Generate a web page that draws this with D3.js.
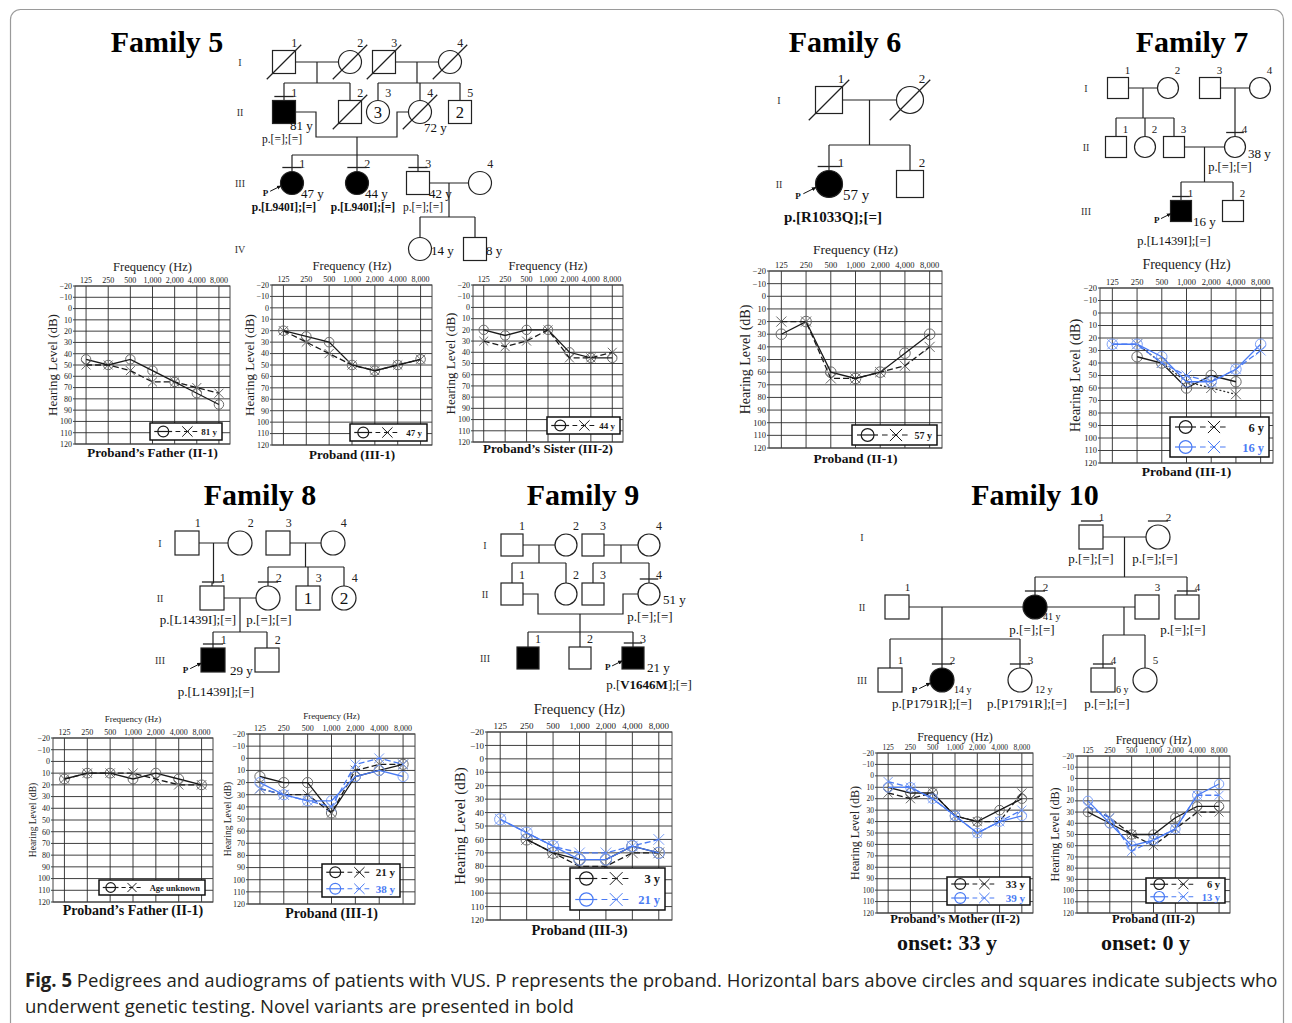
<!DOCTYPE html>
<html>
<head>
<meta charset="utf-8">
<script src="https://cdn.jsdelivr.net/npm/d3@7"></script>
<style>
  body { margin: 0; background: #fff; }
  svg { display: block; }
</style>
</head>
<body>
<div class="viz"></div>
<script>
var W = 1292, H = 1023;
var SERIF = "'Liberation Serif','Times New Roman',serif";
var BLUE = "#4a7bf4";
var INK = "#1a1a1a";

// ---- audiogram data (dB HL, null = not measured) ----
var freqs = ["125", "250", "500", "1,000", "2,000", "4,000", "8,000"];
var dbTicks = d3.range(-20, 121, 10);

var f5FatherO = [45, 50, 45, 55, 65, 75, 85];
var f5FatherX = [50, 50, 55, 65, 65, 70, 75];
var f5ProbandO = [20, 25, 30, 50, 55, 50, 45];
var f5ProbandX = [20, 30, 40, 50, 55, 50, 45];
var f5SisterO = [20, 25, 20, 20, 40, 45, 45];
var f5SisterX = [30, 35, 30, 20, 45, 45, 40];
var f6ProbandO = [30, 20, 60, 65, 60, 45, 30];
var f6ProbandX = [20, 20, 65, 65, 60, 55, 40];
var f7Age6O = [null, 35, 40, 60, 50, 55, null];
var f7Age6X = [null, 25, 40, 55, 60, 65, null];
var f7Age16O = [25, 25, 35, 55, 55, 45, 25];
var f7Age16X = [25, 25, 40, 50, 55, 45, 30];
var f8FatherO = [15, 10, 10, 15, 10, 15, 20];
var f8FatherX = [15, 10, 10, 10, 15, 20, 20];
var f8Age21O = [15, 20, 20, 45, 15, 10, 5];
var f8Age21X = [25, 30, 30, 45, 10, 5, 5];
var f8Age38O = [20, 30, 35, 35, 15, 10, 15];
var f8Age38X = [25, 30, 35, 40, 5, 0, 5];
var f9Age3O = [null, 60, 70, 75, 75, 65, 70];
var f9Age3X = [null, 60, 70, 80, 80, 70, 70];
var f9Age21O = [45, 55, 65, 75, 75, 65, 70];
var f9Age21X = [45, 55, 65, 70, 70, 65, 60];
var f10MotherAge33O = [10, 15, 15, 35, 40, 30, 20];
var f10MotherAge33X = [15, 20, 15, 35, 40, 40, 15];
var f10MotherAge39O = [10, 10, 20, 35, 50, 40, 35];
var f10MotherAge39X = [5, 10, 20, 35, 50, 40, 30];
var f10ProbandAge6O = [30, 40, 50, 50, 35, 25, 25];
var f10ProbandAge6X = [25, 35, 50, 60, 45, 30, 30];
var f10ProbandAge13O = [20, 40, 60, 55, 45, 15, 5];
var f10ProbandAge13X = [25, 35, 65, 55, 45, 15, 15];

// ---- pedigree members: id, sex, flags (A affected, D deceased, T tested, P proband), inner count, age, genotype, novel part ----
var fam5Members = [
  ["I-1", "m", "D"], ["I-2", "f", "D"], ["I-3", "m", "D"], ["I-4", "f", "D"],
  ["II-1", "m", "AT", "", "81 y", "p.[=];[=]"], ["II-2", "m", "D"], ["II-3", "f", "", "3"],
  ["II-4", "f", "D", "", "72 y"], ["II-5", "m", "", "2"],
  ["III-1", "f", "ATP", "", "47 y", "p.[L940I];[=]", "all"], ["III-2", "f", "AT", "", "44 y", "p.[L940I];[=]", "all"],
  ["III-3", "m", "T", "", "42 y", "p.[=];[=]"], ["III-4", "f", ""],
  ["IV-1", "f", "", "", "14 y"], ["IV-2", "m", "", "", "8 y"]
];
var fam6Members = [
  ["I-1", "m", "D"], ["I-2", "f", "D"],
  ["II-1", "f", "ATP", "", "57 y", "p.[R1033Q];[=]", "all"], ["II-2", "m", ""]
];
var fam7Members = [
  ["I-1", "m", ""], ["I-2", "f", ""], ["I-3", "m", ""], ["I-4", "f", ""],
  ["II-1", "m", ""], ["II-2", "f", ""], ["II-3", "m", ""], ["II-4", "f", "T", "", "38 y", "p.[=];[=]"],
  ["III-1", "m", "ATP", "", "16 y", "p.[L1439I];[=]"], ["III-2", "m", ""]
];
var fam8Members = [
  ["I-1", "m", ""], ["I-2", "f", ""], ["I-3", "m", ""], ["I-4", "f", ""],
  ["II-1", "m", "T", "", "", "p.[L1439I];[=]"], ["II-2", "f", "T", "", "", "p.[=];[=]"],
  ["II-3", "m", "", "1"], ["II-4", "f", "", "2"],
  ["III-1", "m", "ATP", "", "29 y", "p.[L1439I];[=]"], ["III-2", "m", ""]
];
var fam9Members = [
  ["I-1", "m", ""], ["I-2", "f", ""], ["I-3", "m", ""], ["I-4", "f", ""],
  ["II-1", "m", ""], ["II-2", "f", ""], ["II-3", "m", ""], ["II-4", "f", "T", "", "51 y", "p.[=];[=]"],
  ["III-1", "m", "A"], ["III-2", "m", ""], ["III-3", "m", "ATP", "", "21 y", "p.[V1646M];[=]", "V1646M"]
];
var fam10Members = [
  ["I-1", "m", "T", "", "", "p.[=];[=]"], ["I-2", "f", "T", "", "", "p.[=];[=]"],
  ["II-1", "m", ""], ["II-2", "f", "AT", "", "41 y", "p.[=];[=]"], ["II-3", "m", ""],
  ["II-4", "m", "T", "", "", "p.[=];[=]"],
  ["III-1", "m", ""], ["III-2", "f", "ATP", "", "14 y", "p.[P1791R];[=]"],
  ["III-3", "f", "T", "", "12 y", "p.[P1791R];[=]"], ["III-4", "m", "T", "", "6 y", "p.[=];[=]"], ["III-5", "f", ""]
];

var svg = d3.select(".viz").append("svg").attr("width", W).attr("height", H)
  .style("font-family", SERIF);

svg.append("rect").attr("x", 10.5).attr("y", 9.5).attr("width", 1273).attr("height", 1100)
  .attr("rx", 10).attr("fill", "none").attr("stroke", "#9a9a9a").attr("stroke-width", 1.2);

// ---- audiograms ----
var audiograms = [
  { x0: 75, x1: 230, y0: 286, y1: 444, tick: 8, title: 12.5, titleDy: 15, yTitle: 13, yTitleDx: 23,
    label: "Proband\u2019s Father (II-1)", labelFs: 13, labelDy: 13, leg: [150, 423, 72, 17], legFs: 9,
    series: [[f5FatherO, "o", INK], [f5FatherX, "x", INK]], rows: [["81 y", INK]] },
  { x0: 272, x1: 432, y0: 285, y1: 445, tick: 8, title: 12.5, titleDy: 15, yTitle: 13, yTitleDx: 23,
    label: "Proband (III-1)", labelFs: 13, labelDy: 14, leg: [350, 424, 77, 17], legFs: 9,
    series: [[f5ProbandO, "o", INK], [f5ProbandX, "x", INK]], rows: [["47 y", INK]] },
  { x0: 473, x1: 623, y0: 285, y1: 442, tick: 8, title: 12.5, titleDy: 15, yTitle: 13, yTitleDx: 23,
    label: "Proband\u2019s Sister (III-2)", labelFs: 13, labelDy: 11, leg: [547, 417, 73, 17], legFs: 9,
    series: [[f5SisterO, "o", INK], [f5SisterX, "x", INK]], rows: [["44 y", INK]] },
  { x0: 769, x1: 942, y0: 271, y1: 448, tick: 8.5, title: 13.5, titleDy: 17, yTitle: 14, yTitleDx: 24,
    label: "Proband (II-1)", labelFs: 13.5, labelDy: 15, leg: [852, 425, 85, 20], legFs: 10,
    series: [[f6ProbandO, "o", INK], [f6ProbandX, "x", INK]], rows: [["57 y", INK]] },
  { x0: 1100, x1: 1273, y0: 288, y1: 463, tick: 8.5, title: 14, titleDy: 19, yTitle: 14.5, yTitleDx: 25,
    label: "Proband (III-1)", labelFs: 13.5, labelDy: 13, leg: [1170, 417, 99, 40], legFs: 12.5,
    series: [[f7Age6O, "o", INK], [f7Age6X, "x", "#333", "2,2"], [f7Age16O, "o", BLUE], [f7Age16X, "x", BLUE]],
    rows: [["6 y", INK], ["16 y", BLUE]] },
  { x0: 53, x1: 213, y0: 738, y1: 902, tick: 8, title: 9, titleDy: 16, yTitle: 9.5, yTitleDx: 20,
    label: "Proband\u2019s Father (II-1)", labelFs: 14, labelDy: 13, leg: [99, 880, 106, 15], legFs: 8.5,
    series: [[f8FatherO, "o", INK], [f8FatherX, "x", INK]], rows: [["Age unknown", INK]] },
  { x0: 248, x1: 415, y0: 734, y1: 904, tick: 8, title: 9, titleDy: 15, yTitle: 9.5, yTitleDx: 20,
    label: "Proband (III-1)", labelFs: 14, labelDy: 14, leg: [322, 864, 78, 33], legFs: 11,
    series: [[f8Age21O, "o", INK], [f8Age21X, "x", INK], [f8Age38O, "o", BLUE], [f8Age38X, "x", BLUE]],
    rows: [["21 y", INK], ["38 y", BLUE]] },
  { x0: 487, x1: 672, y0: 732, y1: 920, tick: 9, title: 14.5, titleDy: 18, yTitle: 15, yTitleDx: 27,
    label: "Proband (III-3)", labelFs: 14.5, labelDy: 15, leg: [570, 868, 95, 42], legFs: 12.5,
    series: [[f9Age3O, "o", INK], [f9Age3X, "x", INK], [f9Age21O, "o", BLUE], [f9Age21X, "x", BLUE]],
    rows: [["3 y", INK], ["21 y", BLUE]] },
  { x0: 877, x1: 1033, y0: 753, y1: 913, tick: 7.5, title: 12, titleDy: 12, yTitle: 12, yTitleDx: 22,
    label: "Proband\u2019s Mother (II-2)", labelFs: 12.5, labelDy: 10, leg: [947, 877, 83, 28], legFs: 11,
    series: [[f10MotherAge33O, "o", INK], [f10MotherAge33X, "x", INK], [f10MotherAge39O, "o", BLUE], [f10MotherAge39X, "x", BLUE]],
    rows: [["33 y", INK], ["39 y", BLUE]], onset: "onset: 33 y" },
  { x0: 1077, x1: 1230, y0: 756, y1: 913, tick: 7.5, title: 12, titleDy: 12, yTitle: 12, yTitleDx: 22,
    label: "Proband (III-2)", labelFs: 12.5, labelDy: 10, leg: [1146, 878, 79, 25], legFs: 10.5,
    series: [[f10ProbandAge6O, "o", INK], [f10ProbandAge6X, "x", INK], [f10ProbandAge13O, "o", BLUE], [f10ProbandAge13X, "x", BLUE]],
    rows: [["6 y", INK], ["13 y", BLUE]], onset: "onset: 0 y" }
];

function xMark(g, cx, cy, r, color) {
  g.append("path").attr("d", "M" + (cx - r) + "," + (cy - r) + "L" + (cx + r) + "," + (cy + r) +
    "M" + (cx - r) + "," + (cy + r) + "L" + (cx + r) + "," + (cy - r))
    .attr("stroke", color).attr("stroke-width", 1).attr("fill", "none");
}

function drawAudiogram(a) {
  var g = svg.append("g").attr("class", "audiogram");
  var x = d3.scalePoint().domain(freqs).range([a.x0, a.x1]).padding(0.5);
  var y = d3.scaleLinear().domain([-20, 120]).range([a.y0, a.y1]);

  g.selectAll("line.h").data(dbTicks).enter().append("line").attr("class", "h")
    .attr("x1", a.x0 - 2).attr("x2", a.x1).attr("y1", function (d) { return y(d); })
    .attr("y2", function (d) { return y(d); }).attr("stroke", "#2a2a2a").attr("stroke-width", 0.9);
  g.selectAll("line.v").data(freqs).enter().append("line").attr("class", "v")
    .attr("x1", function (d) { return x(d); }).attr("x2", function (d) { return x(d); })
    .attr("y1", a.y0).attr("y2", a.y1).attr("stroke", "#2a2a2a").attr("stroke-width", 0.9);
  g.append("rect").attr("x", a.x0).attr("y", a.y0).attr("width", a.x1 - a.x0).attr("height", a.y1 - a.y0)
    .attr("fill", "none").attr("stroke", "#444").attr("stroke-width", 1);

  g.selectAll("text.fx").data(freqs).enter().append("text").attr("class", "fx")
    .attr("x", function (d) { return x(d); }).attr("y", a.y0 - 3).attr("text-anchor", "middle")
    .style("font-size", a.tick + "px").attr("fill", "#222").text(function (d) { return d; });
  g.selectAll("text.fy").data(dbTicks).enter().append("text").attr("class", "fy")
    .attr("x", a.x0 - 3).attr("y", function (d) { return y(d) + a.tick * 0.35; })
    .attr("text-anchor", "end").style("font-size", a.tick + "px").attr("fill", "#222")
    .text(function (d) { return d < 0 ? "\u2212" + (-d) : d; });

  g.append("text").attr("x", (a.x0 + a.x1) / 2).attr("y", a.y0 - a.titleDy).attr("text-anchor", "middle")
    .style("font-size", a.title + "px").attr("fill", "#222").text("Frequency (Hz)");
  var cy = (a.y0 + a.y1) / 2, cx = a.x0 - a.yTitleDx;
  g.append("text").attr("transform", "translate(" + cx + "," + cy + ") rotate(-90)")
    .attr("text-anchor", "middle").attr("dy", "0.35em").style("font-size", a.yTitle + "px")
    .attr("fill", "#222").text("Hearing Level (dB)");
  g.append("text").attr("x", (a.x0 + a.x1) / 2).attr("y", a.y1 + a.labelDy).attr("text-anchor", "middle")
    .style("font-size", a.labelFs + "px").style("font-weight", "bold").attr("fill", "#111").text(a.label);
  if (a.onset) {
    g.append("text").attr("x", (a.x0 + a.x1) / 2 - 8).attr("y", a.y1 + 37).attr("text-anchor", "middle")
      .style("font-size", "22px").style("font-weight", "bold").attr("fill", "#111").text(a.onset);
  }

  // series
  a.series.forEach(function (s) {
    var vals = s[0], kind = s[1], color = s[2];
    var pts = freqs.map(function (f, i) { return { f: f, v: vals[i] }; });
    var mColor = color === BLUE ? "#7fa2f7" : "#6a6a6a";
    var r = (a.y1 - a.y0) / 14 * 0.42;
    pts.filter(function (d) { return d.v != null; }).forEach(function (d) {
      if (kind === "o") {
        g.append("circle").attr("cx", x(d.f)).attr("cy", y(d.v)).attr("r", r)
          .attr("fill", "none").attr("stroke", mColor).attr("stroke-width", 1);
      } else {
        xMark(g, x(d.f), y(d.v), r * 0.95, mColor);
      }
    });
    var line = d3.line().defined(function (d) { return d.v != null; })
      .x(function (d) { return x(d.f); }).y(function (d) { return y(d.v); });
    g.append("path").attr("d", line(pts)).attr("fill", "none").attr("stroke", color)
      .attr("stroke-width", 1.3)
      .attr("stroke-dasharray", kind === "x" ? (s[3] || "6,3") : null);
  });

  // legend
  var L = a.leg;
  g.append("rect").attr("x", L[0]).attr("y", L[1]).attr("width", L[2]).attr("height", L[3])
    .attr("fill", "#fff").attr("stroke", "#111").attr("stroke-width", 1.5);
  var rh = L[3] / a.rows.length;
  var u = Math.max(15, Math.min(21, a.rows.length > 1 ? Math.max(rh, 17) : rh));
  var sr = Math.min(0.32 * u, rh * 0.42);
  a.rows.forEach(function (row, i) {
    var ry = L[1] + rh * (i + 0.5);
    var c = row[1];
    var lg = g.append("g");
    lg.append("line").attr("x1", L[0] + 0.25 * u).attr("x2", L[0] + 1.3 * u).attr("y1", ry).attr("y2", ry)
      .attr("stroke", c).attr("stroke-width", 1.2);
    lg.append("circle").attr("cx", L[0] + 0.78 * u).attr("cy", ry).attr("r", sr)
      .attr("fill", "none").attr("stroke", c).attr("stroke-width", 1.2);
    lg.append("line").attr("x1", L[0] + 1.5 * u).attr("x2", L[0] + 2.9 * u).attr("y1", ry).attr("y2", ry)
      .attr("stroke", c).attr("stroke-width", 1.2).attr("stroke-dasharray", (0.28 * u) + "," + (0.22 * u));
    xMark(lg, L[0] + 2.2 * u, ry, sr * 0.95, c);
    lg.append("text").attr("x", L[0] + L[2] - 5).attr("y", ry + a.legFs * 0.36).attr("text-anchor", "end")
      .style("font-size", a.legFs + "px").style("font-weight", "bold").attr("fill", c).text(row[0]);
  });
}

audiograms.forEach(drawAudiogram);

// ---- pedigree layouts ----
var pedigrees = [
  { title: "Family 5", tx: 167, ty: 52, members: fam5Members, size: 23, numFs: 12, ageFs: 13, genoFs: 11.5, labelX: 240,
    genY: { I: 62, II: 112, III: 183, IV: 249 },
    x: { "I-1": 284, "I-2": 350, "I-3": 384, "I-4": 450, "II-1": 284, "II-2": 350, "II-3": 378, "II-4": 420, "II-5": 460,
      "III-1": 292, "III-2": 357, "III-3": 418, "III-4": 480, "IV-1": 420, "IV-2": 475 },
    ageOff: { "II-1": [6, 18], "II-4": [4, 20], "III-1": [9, 15], "III-2": [8, 15], "III-3": [11, 15], "IV-1": [11, 6], "IV-2": [11, 6] },
    genoOff: { "II-1": [-2, 31], "III-1": [-8, 28], "III-2": [6, 28], "III-3": [5, 28] },
    hideNum: ["IV-1", "IV-2"],
    couples: [{ a: "I-1", b: "I-2" }, { a: "I-3", b: "I-4" }, { a: "II-1", b: "II-4", dip: 137, ga: 32, gb: 23 }, { a: "III-3", b: "III-4" }],
    sibs: [{ c: 0, kids: ["II-1", "II-2"], y: 83 }, { c: 1, kids: ["II-3", "II-4", "II-5"], y: 83 },
      { c: 2, kids: ["III-1", "III-2", "III-3"], y: 155, dropAt: "III-2" }, { c: 3, kids: ["IV-1", "IV-2"], y: 217 }] },
  { title: "Family 6", tx: 845, ty: 52, members: fam6Members, size: 27, numFs: 13, ageFs: 15, genoFs: 15, labelX: 779,
    genY: { I: 100, II: 184 },
    x: { "I-1": 829, "I-2": 910, "II-1": 829, "II-2": 910 },
    ageOff: { "II-1": [14, 16] }, genoOff: { "II-1": [4, 38] },
    couples: [{ a: "I-1", b: "I-2" }],
    sibs: [{ c: 0, kids: ["II-1", "II-2"], y: 145 }] },
  { title: "Family 7", tx: 1192, ty: 52, members: fam7Members, size: 21, numFs: 11, ageFs: 13, genoFs: 12.5, labelX: 1086,
    genY: { I: 88, II: 147, III: 211 },
    x: { "I-1": 1118, "I-2": 1168, "I-3": 1210, "I-4": 1260, "II-1": 1116, "II-2": 1145, "II-3": 1174, "II-4": 1235,
      "III-1": 1181, "III-2": 1233 },
    ageOff: { "II-4": [13, 11], "III-1": [12, 15] }, genoOff: { "II-4": [-5, 24], "III-1": [-7, 34] },
    couples: [{ a: "I-1", b: "I-2" }, { a: "I-3", b: "I-4" }, { a: "II-3", b: "II-4" }],
    sibs: [{ c: 0, kids: ["II-1", "II-2", "II-3"], y: 118 }, { c: 1, kids: ["II-4"] }, { c: 2, kids: ["III-1", "III-2"], y: 182 }] },
  { title: "Family 8", tx: 260, ty: 505, members: fam8Members, size: 24, numFs: 12, ageFs: 13, genoFs: 13, labelX: 160,
    genY: { I: 543, II: 598, III: 660 },
    x: { "I-1": 187, "I-2": 240, "I-3": 278, "I-4": 333, "II-1": 212, "II-2": 268, "II-3": 308, "II-4": 344,
      "III-1": 213, "III-2": 267 },
    ageOff: { "III-1": [17, 15] }, genoOff: { "II-1": [-14, 26], "II-2": [1, 26], "III-1": [3, 36] },
    couples: [{ a: "I-1", b: "I-2" }, { a: "I-3", b: "I-4" }, { a: "II-1", b: "II-2" }],
    sibs: [{ c: 0, kids: ["II-1"] }, { c: 1, kids: ["II-2", "II-3", "II-4"], y: 567 }, { c: 2, kids: ["III-1", "III-2"], y: 632 }] },
  { title: "Family 9", tx: 583, ty: 505, members: fam9Members, size: 22, numFs: 12, ageFs: 13, genoFs: 13, labelX: 485,
    genY: { I: 545, II: 594, III: 658 },
    x: { "I-1": 512, "I-2": 566, "I-3": 593, "I-4": 649, "II-1": 512, "II-2": 566, "II-3": 593, "II-4": 649,
      "III-1": 528, "III-2": 580, "III-3": 633 },
    ageOff: { "II-4": [14, 10], "III-3": [14, 14] }, genoOff: { "II-4": [1, 27], "III-3": [16, 31] },
    couples: [{ a: "I-1", b: "I-2" }, { a: "I-3", b: "I-4" }, { a: "II-1", b: "II-4", dip: 614, ga: 26, gb: 26 }],
    sibs: [{ c: 0, kids: ["II-1", "II-2"], y: 563 }, { c: 1, kids: ["II-3", "II-4"], y: 563 },
      { c: 2, kids: ["III-1", "III-2", "III-3"], y: 632, dropAt: "III-2" }] },
  { title: "Family 10", tx: 1035, ty: 505, members: fam10Members, size: 24, numFs: 11, ageFs: 10, genoFs: 13, labelX: 862,
    genY: { I: 537, II: 607, III: 680 },
    x: { "I-1": 1091, "I-2": 1158, "II-1": 897, "II-2": 1035, "II-3": 1147, "II-4": 1187,
      "III-1": 890, "III-2": 942, "III-3": 1020, "III-4": 1103, "III-5": 1145 },
    ageOff: { "II-2": [8, 13], "III-2": [12, 13], "III-3": [15, 13], "III-4": [13, 13] },
    genoOff: { "I-1": [0, 26], "I-2": [-3, 26], "II-2": [-3, 27], "II-4": [-4, 27], "III-2": [-10, 28], "III-3": [7, 28], "III-4": [4, 28] },
    couples: [{ a: "I-1", b: "I-2" }, { a: "II-1", b: "II-2" }, { a: "II-2", b: "II-3" }],
    sibs: [{ c: 0, kids: ["II-2", "II-4"], y: 577 }, { c: 1, kids: ["III-1", "III-2", "III-3"], y: 639, dropAt: "III-2" },
      { c: 2, kids: ["III-4", "III-5"], y: 635, dropAt: "mid" }] }
];

svg.append("defs").append("marker").attr("id", "arr").attr("viewBox", "0 0 10 10")
  .attr("refX", 9).attr("refY", 5).attr("markerWidth", 5).attr("markerHeight", 5).attr("orient", "auto")
  .append("path").attr("d", "M0,1L10,5L0,9z").attr("fill", "#111");

function drawPedigree(p) {
  var g = svg.append("g").attr("class", "pedigree");
  var s = p.size;
  var pos = {};
  p.members.forEach(function (m) {
    pos[m[0]] = { x: p.x[m[0]], y: p.genY[m[0].split("-")[0]] };
  });

  g.append("text").attr("x", p.tx).attr("y", p.ty).attr("text-anchor", "middle")
    .style("font-size", "30px").style("font-weight", "bold").attr("fill", "#000").text(p.title);

  Object.keys(p.genY).forEach(function (k) {
    g.append("text").attr("x", p.labelX).attr("y", p.genY[k] + 3.5).attr("text-anchor", "middle")
      .style("font-size", "10px").attr("fill", "#333").text(k);
  });

  var lines = g.append("g").attr("stroke", "#222").attr("stroke-width", 1.2).attr("fill", "none");
  var drops = p.couples.map(function (c) {
    var a = pos[c.a], b = pos[c.b];
    if (c.dip) {
      var path = d3.path();
      path.moveTo(a.x, a.y); path.lineTo(a.x + c.ga, a.y); path.lineTo(a.x + c.ga, c.dip);
      path.lineTo(b.x - c.gb, c.dip); path.lineTo(b.x - c.gb, b.y); path.lineTo(b.x, b.y);
      lines.append("path").attr("d", path.toString());
      return { x: (a.x + b.x) / 2, y: c.dip };
    }
    lines.append("line").attr("x1", a.x).attr("x2", b.x).attr("y1", a.y).attr("y2", b.y);
    return { x: (a.x + b.x) / 2, y: a.y };
  });

  p.sibs.forEach(function (sb) {
    var d = drops[sb.c];
    var kx = sb.kids.map(function (k) { return pos[k].x; });
    var dx = d.x;
    if (sb.dropAt === "mid") dx = d3.mean(kx);
    else if (sb.dropAt) dx = pos[sb.dropAt].x;
    if (sb.kids.length === 1) {
      var k = pos[sb.kids[0]];
      lines.append("path").attr("d", "M" + dx + "," + d.y + "V" + (k.y - s / 2 - 3) + "H" + k.x + "V" + (k.y - s / 2));
      return;
    }
    lines.append("line").attr("x1", dx).attr("x2", dx).attr("y1", d.y).attr("y2", sb.y);
    lines.append("line").attr("x1", d3.min(kx.concat(dx))).attr("x2", d3.max(kx.concat(dx)))
      .attr("y1", sb.y).attr("y2", sb.y);
    sb.kids.forEach(function (k) {
      lines.append("line").attr("x1", pos[k].x).attr("x2", pos[k].x).attr("y1", sb.y).attr("y2", pos[k].y - s / 2);
    });
  });

  p.members.forEach(function (m) {
    var id = m[0], sex = m[1], fl = m[2] || "", inner = m[3], age = m[4], geno = m[5], novel = m[6];
    var q = pos[id];
    var fill = fl.indexOf("A") >= 0 ? "#000" : "#fff";
    if (sex === "m") {
      g.append("rect").attr("x", q.x - s / 2).attr("y", q.y - s / 2).attr("width", s).attr("height", s)
        .attr("fill", fill).attr("stroke", "#222").attr("stroke-width", 1.2);
    } else {
      g.append("circle").attr("cx", q.x).attr("cy", q.y).attr("r", s / 2)
        .attr("fill", fill).attr("stroke", "#222").attr("stroke-width", 1.2);
    }
    if (fl.indexOf("D") >= 0) {
      g.append("line").attr("x1", q.x - s * 0.75).attr("y1", q.y + s * 0.75).attr("x2", q.x + s * 0.75)
        .attr("y2", q.y - s * 0.75).attr("stroke", "#222").attr("stroke-width", 1.2);
    }
    if (inner) {
      g.append("text").attr("x", q.x).attr("y", q.y + s * 0.27).attr("text-anchor", "middle")
        .style("font-size", (s * 0.72) + "px").attr("fill", "#111").text(inner);
    }
    if (fl.indexOf("T") >= 0) {
      g.append("line").attr("x1", q.x - s * 0.42).attr("x2", q.x + s * 0.42)
        .attr("y1", q.y - s / 2 - 4).attr("y2", q.y - s / 2 - 4).attr("stroke", "#222").attr("stroke-width", 1.3);
    }
    if (!p.hideNum || p.hideNum.indexOf(id) < 0) {
      g.append("text").attr("x", q.x + s * 0.32).attr("y", q.y - s / 2 - 4).style("font-size", p.numFs + "px")
        .attr("fill", "#222").text(id.split("-")[1]);
    }
    if (fl.indexOf("P") >= 0) {
      g.append("text").attr("x", q.x - s * 1.15).attr("y", q.y + s * 0.55).attr("text-anchor", "middle")
        .style("font-size", "9px").style("font-weight", "bold").attr("fill", "#111").text("P");
      g.append("line").attr("x1", q.x - s * 0.95).attr("y1", q.y + s * 0.36)
        .attr("x2", q.x - s * 0.47).attr("y2", q.y + s * 0.12)
        .attr("stroke", "#111").attr("stroke-width", 1).attr("marker-end", "url(#arr)");
    }
    if (age && p.ageOff[id]) {
      g.append("text").attr("x", q.x + p.ageOff[id][0]).attr("y", q.y + p.ageOff[id][1])
        .style("font-size", p.ageFs + "px").attr("fill", "#111").text(age);
    }
    if (geno && p.genoOff[id]) {
      var t = g.append("text").attr("x", q.x + p.genoOff[id][0]).attr("y", q.y + p.genoOff[id][1])
        .attr("text-anchor", "middle").style("font-size", p.genoFs + "px").attr("fill", "#111");
      if (novel === "all") {
        t.style("font-weight", "bold").text(geno);
      } else if (novel) {
        var parts = geno.split(novel);
        t.append("tspan").text(parts[0]);
        t.append("tspan").style("font-weight", "bold").text(novel);
        t.append("tspan").text(parts[1]);
      } else {
        t.text(geno);
      }
    }
  });
}

pedigrees.forEach(drawPedigree);

// ---- caption ----
var cap = svg.append("g").style("font-family", "'Open Sans','DejaVu Sans',sans-serif").style("font-size", "19px")
  .attr("fill", "#231f20");
var line1 = cap.append("text").attr("x", 0).attr("y", 0);
line1.append("tspan").style("font-weight", "bold").text("Fig. 5");
line1.append("tspan").text(" Pedigrees and audiograms of patients with VUS. P represents the proband. Horizontal bars above circles and squares indicate subjects who");
var line2 = cap.append("text").attr("x", 0).attr("y", 26)
  .text("underwent genetic testing. Novel variants are presented in bold");
var k = 1253 / line1.node().getComputedTextLength();
cap.attr("transform", "translate(25,987) scale(" + k + ",1)");
</script>
</body>
</html>
